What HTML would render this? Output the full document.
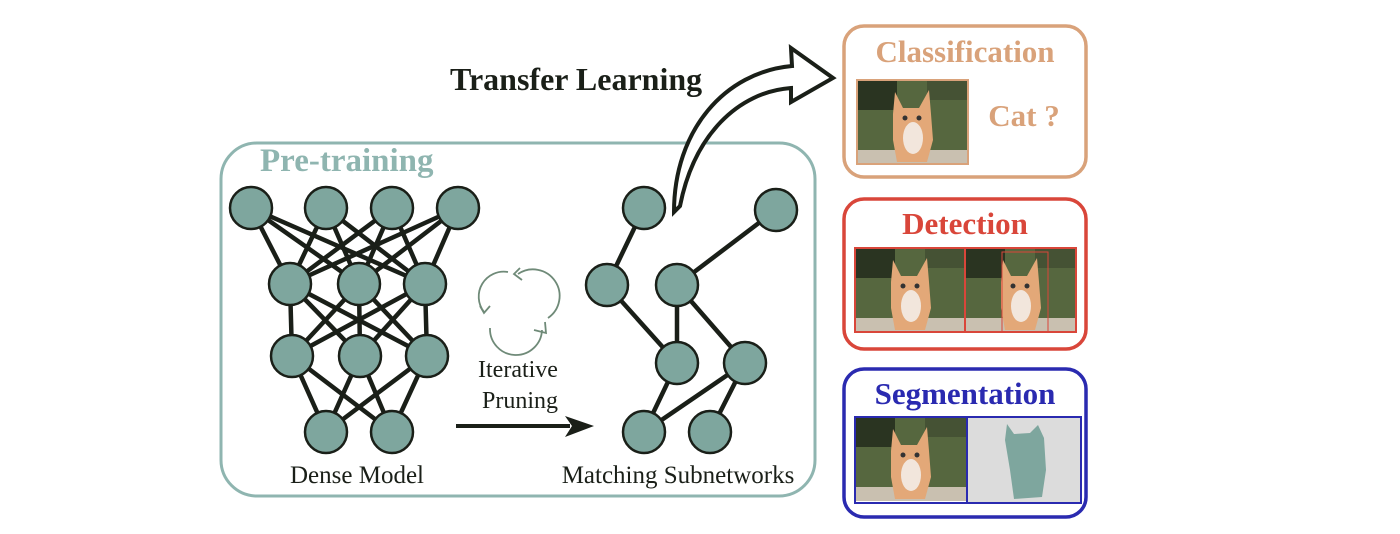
<!DOCTYPE html>
<html><head><style>
html,body{margin:0;padding:0;background:#fff;}
svg{display:block;}
text{font-family:"Liberation Serif",serif;}
</style></head><body>
<svg width="1400" height="534" viewBox="0 0 1400 534" xmlns="http://www.w3.org/2000/svg">
<defs>
<g id="cat">
  <rect x="0" y="0" width="111" height="84" fill="#56673f"/>
  <rect x="0" y="0" width="40" height="30" fill="#222b1c" opacity="0.85"/>
  <rect x="70" y="0" width="41" height="20" fill="#3e4a30" opacity="0.7"/>
  <rect x="0" y="70" width="111" height="14" fill="#c9c0b0"/>
  <path d="M38,12 L46,28 L62,28 L72,10 L74,34 L76,60 L70,82 L40,82 L36,60 L36,34 Z" fill="#e3a878"/>
  <ellipse cx="56" cy="58" rx="10" ry="16" fill="#f2e6dc"/>
  <circle cx="48" cy="38" r="2.5" fill="#333"/><circle cx="62" cy="38" r="2.5" fill="#333"/>
</g>
</defs>

<rect x="221" y="143" width="594" height="353" rx="36" fill="none" stroke="#8fb5b0" stroke-width="3"/>
<text x="260" y="171" font-size="33" font-weight="bold" fill="#8fb5b0">Pre-training</text>

<g stroke="#1a1f18" stroke-width="4.5" stroke-linecap="round">
<line x1="251" y1="208" x2="290" y2="284"/><line x1="251" y1="208" x2="359" y2="284"/><line x1="251" y1="208" x2="425" y2="284"/>
<line x1="326" y1="208" x2="290" y2="284"/><line x1="326" y1="208" x2="359" y2="284"/><line x1="326" y1="208" x2="425" y2="284"/>
<line x1="392" y1="208" x2="290" y2="284"/><line x1="392" y1="208" x2="359" y2="284"/><line x1="392" y1="208" x2="425" y2="284"/>
<line x1="458" y1="208" x2="290" y2="284"/><line x1="458" y1="208" x2="359" y2="284"/><line x1="458" y1="208" x2="425" y2="284"/>
<line x1="290" y1="284" x2="292" y2="356"/><line x1="290" y1="284" x2="360" y2="356"/><line x1="290" y1="284" x2="427" y2="356"/>
<line x1="359" y1="284" x2="292" y2="356"/><line x1="359" y1="284" x2="360" y2="356"/><line x1="359" y1="284" x2="427" y2="356"/>
<line x1="425" y1="284" x2="292" y2="356"/><line x1="425" y1="284" x2="360" y2="356"/><line x1="425" y1="284" x2="427" y2="356"/>
<line x1="292" y1="356" x2="326" y2="432"/><line x1="292" y1="356" x2="392" y2="432"/>
<line x1="360" y1="356" x2="326" y2="432"/><line x1="360" y1="356" x2="392" y2="432"/>
<line x1="427" y1="356" x2="326" y2="432"/><line x1="427" y1="356" x2="392" y2="432"/>
<line x1="644" y1="208" x2="607" y2="285"/><line x1="776" y1="210" x2="677" y2="285"/>
<line x1="607" y1="285" x2="677" y2="363"/><line x1="677" y1="285" x2="677" y2="363"/>
<line x1="677" y1="285" x2="745" y2="363"/><line x1="677" y1="363" x2="644" y2="432"/>
<line x1="745" y1="363" x2="644" y2="432"/><line x1="745" y1="363" x2="710" y2="432"/>
</g>
<g fill="#7ea69e" stroke="#1a1f18" stroke-width="2.5">
<circle cx="251" cy="208" r="21"/><circle cx="326" cy="208" r="21"/><circle cx="392" cy="208" r="21"/><circle cx="458" cy="208" r="21"/>
<circle cx="290" cy="284" r="21"/><circle cx="359" cy="284" r="21"/><circle cx="425" cy="284" r="21"/>
<circle cx="292" cy="356" r="21"/><circle cx="360" cy="356" r="21"/><circle cx="427" cy="356" r="21"/>
<circle cx="326" cy="432" r="21"/><circle cx="392" cy="432" r="21"/>
<circle cx="644" cy="208" r="21"/><circle cx="776" cy="210" r="21"/>
<circle cx="607" cy="285" r="21"/><circle cx="677" cy="285" r="21"/>
<circle cx="677" cy="363" r="21"/><circle cx="745" cy="363" r="21"/>
<circle cx="644" cy="432" r="21"/><circle cx="710" cy="432" r="21"/>
</g>
<text x="357" y="483" font-size="25" text-anchor="middle" fill="#1a1f18">Dense Model</text>
<text x="678" y="483" font-size="25" text-anchor="middle" fill="#1a1f18">Matching Subnetworks</text>

<g fill="none" stroke="#6f8a78" stroke-width="1.8">
<path d="M518,274 A25,25 0 0 1 548,318"/>
<path d="M542,330 A25,25 0 0 1 490,328"/>
<path d="M484,312 A25,25 0 0 1 508,272"/>
<path d="M520,268 L514,274 L522,280"/>
<path d="M534,330 L546,333 L545,322"/>
<path d="M480,306 L484,313 L490,306"/>
</g>
<text x="518" y="377" font-size="24" text-anchor="middle" fill="#1a1f18">Iterative</text>
<text x="520" y="408" font-size="24" text-anchor="middle" fill="#1a1f18">Pruning</text>
<line x1="456" y1="426" x2="570" y2="426" stroke="#1a1f18" stroke-width="4"/>
<path d="M565,416 L594,426 L565,437 L572,426 Z" fill="#1a1f18"/>

<text x="450" y="90" font-size="32" font-weight="bold" fill="#1a1f18">Transfer Learning</text>
<path d="M674,212 C674,130 725,72 792,66 L791,48 L833,78 L791,102 L791,88 C738,92 694,135 680,206 Z" fill="#fff" stroke="#1a1f18" stroke-width="4" stroke-linejoin="miter"/>

<rect x="844" y="26" width="242" height="151" rx="20" fill="#fff" stroke="#d9a27a" stroke-width="3.5"/>
<text x="965" y="62" font-size="31" font-weight="bold" fill="#d9a27a" text-anchor="middle">Classification</text>
<use href="#cat" x="857" y="80"/>
<rect x="857" y="80" width="111" height="84" fill="none" stroke="#d9a27a" stroke-width="2"/>
<text x="1024" y="126" font-size="31" font-weight="bold" fill="#d9a27a" text-anchor="middle">Cat ?</text>

<rect x="844" y="199" width="242" height="150" rx="20" fill="#fff" stroke="#d9463a" stroke-width="3.5"/>
<text x="965" y="234" font-size="31" font-weight="bold" fill="#d9463a" text-anchor="middle">Detection</text>
<use href="#cat" x="855" y="248"/>
<use href="#cat" x="965" y="248"/>
<rect x="855" y="248" width="221" height="84" fill="none" stroke="#d9463a" stroke-width="2"/>
<line x1="965" y1="248" x2="965" y2="332" stroke="#d9463a" stroke-width="2"/>
<rect x="1002" y="252" width="46" height="80" fill="none" stroke="#d9463a" stroke-width="1"/>

<rect x="844" y="369" width="242" height="148" rx="20" fill="#fff" stroke="#2a2ab0" stroke-width="3.5"/>
<text x="965" y="404" font-size="31" font-weight="bold" fill="#2a2ab0" text-anchor="middle">Segmentation</text>
<use href="#cat" x="855" y="417"/>
<rect x="967" y="417" width="114" height="86" fill="#dcdcdc"/>
<path d="M1007,424 L1014,434 L1030,433 L1038,425 L1044,438 L1046,470 L1042,497 L1014,499 L1010,470 L1005,440 Z" fill="#7ea69e"/>
<rect x="855" y="417" width="226" height="86" fill="none" stroke="#2a2ab0" stroke-width="2"/>
<line x1="967" y1="417" x2="967" y2="503" stroke="#2a2ab0" stroke-width="2"/>
</svg>
</body></html>
